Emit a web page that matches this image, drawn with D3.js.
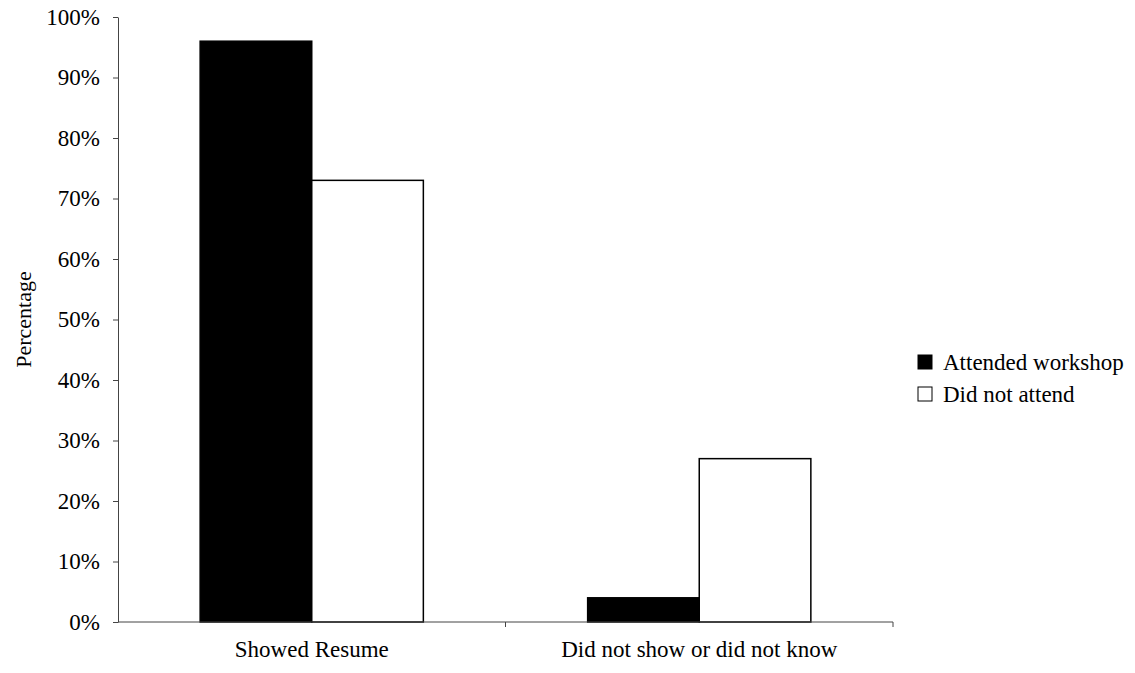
<!DOCTYPE html>
<html>
<head>
<meta charset="utf-8">
<script src="https://cdn.jsdelivr.net/npm/d3@7"></script>
<style>
  body { margin: 0; background: #fff; }
</style>
</head>
<body>
<div id="chart"></div>
<script>
// chart data
const categories = ["Showed Resume", "Did not show or did not know"];
const seriesNames = ["Attended workshop", "Did not attend"];
const attended = [96, 4];
const notAttended = [73, 27];
const yTicks = [0, 10, 20, 30, 40, 50, 60, 70, 80, 90, 100];

const width = 1135, height = 673;
const margin = {top: 17, right: 242, bottom: 51, left: 118};
const fontFamily = "'Liberation Serif', 'Times New Roman', serif";

const svg = d3.select("#chart")
    .append("svg")
    .attr("width", width)
    .attr("height", height)
    .attr("font-family", fontFamily)
    .attr("font-size", 23);

const data = categories.map((c, i) => ({cat: c, values: [attended[i], notAttended[i]]}));

const x0 = d3.scaleBand()
    .domain(categories)
    .range([margin.left, width - margin.right])
    .padding(0);

const x1 = d3.scaleBand()
    .domain(seriesNames)
    .range([x0.bandwidth() * 0.212, x0.bandwidth() * 0.788]);

const y = d3.scaleLinear()
    .domain([0, 100])
    .range([height - margin.bottom, margin.top]);

const fill = d3.scaleOrdinal().domain(seriesNames).range(["#000", "#fff"]);

// bars
const groups = svg.append("g")
    .selectAll("g")
    .data(data)
    .join("g")
    .attr("transform", d => `translate(${x0(d.cat)},0)`);

groups.selectAll("rect")
    .data(d => d.values.map((v, i) => ({key: seriesNames[i], value: v})))
    .join("rect")
    .attr("x", d => x1(d.key))
    .attr("y", d => y(d.value))
    .attr("width", x1.bandwidth())
    .attr("height", d => y(0) - y(d.value))
    .attr("fill", d => fill(d.key))
    .attr("stroke", "#000")
    .attr("stroke-width", 1.5);

// y axis
const yAxis = svg.append("g")
    .attr("transform", `translate(${margin.left},0)`)
    .call(d3.axisLeft(y).tickValues(yTicks).tickFormat(d => d + "%").tickSize(5).tickSizeOuter(0))
    .attr("font-family", fontFamily)
    .attr("font-size", 23);
yAxis.select(".domain").attr("stroke", "#444");
yAxis.selectAll(".tick line").attr("stroke", "#444");
yAxis.selectAll("text").attr("fill", "#000").attr("x", -18);

// x axis
const xAxis = svg.append("g")
    .attr("transform", `translate(0,${y(0)})`);
xAxis.append("line")
    .attr("x1", margin.left).attr("x2", width - margin.right)
    .attr("stroke", "#444");
xAxis.selectAll(".sep")
    .data(categories)
    .join("line")
    .attr("class", "sep")
    .attr("x1", d => x0(d) + x0.bandwidth())
    .attr("x2", d => x0(d) + x0.bandwidth())
    .attr("y1", 0).attr("y2", 5)
    .attr("stroke", "#444");
xAxis.selectAll(".lab")
    .data(categories)
    .join("text")
    .attr("class", "lab")
    .attr("x", d => x0(d) + x0.bandwidth() / 2)
    .attr("y", 35)
    .attr("text-anchor", "middle")
    .text(d => d);

// y label
svg.append("text")
    .attr("transform", `translate(31,${(y(0) + y(100)) / 2}) rotate(-90)`)
    .attr("text-anchor", "middle")
    .attr("font-size", 22)
    .text("Percentage");

// legend
const legend = svg.append("g")
    .selectAll("g")
    .data(seriesNames)
    .join("g")
    .attr("transform", (d, i) => `translate(918,${355 + i * 32})`);

legend.append("rect")
    .attr("width", 14)
    .attr("height", 14)
    .attr("fill", d => fill(d))
    .attr("stroke", "#000")
    .attr("stroke-width", 1);

legend.append("text")
    .attr("x", 25)
    .attr("y", 7)
    .attr("dy", "0.35em")
    .text(d => d);
</script>
</body>
</html>
